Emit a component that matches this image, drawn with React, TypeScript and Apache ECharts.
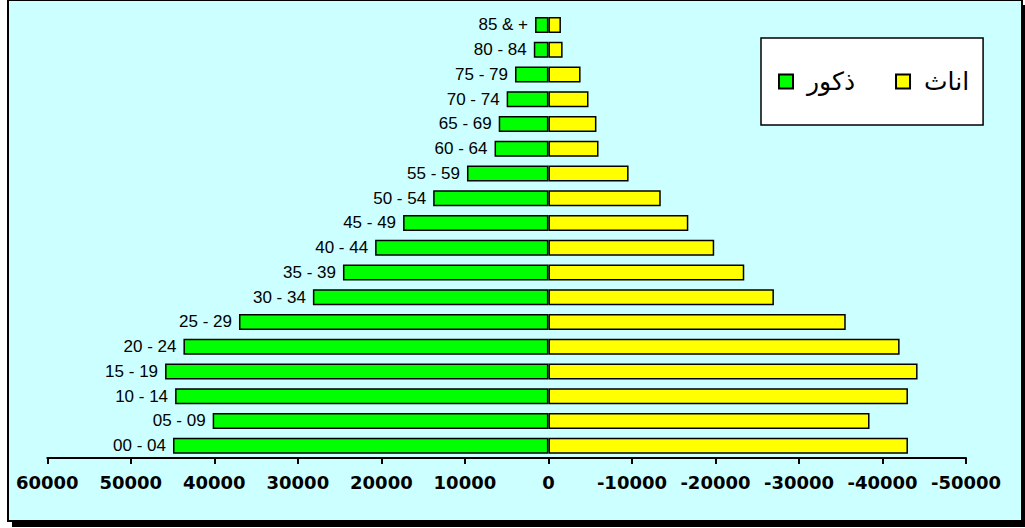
import React, { useEffect, useRef } from "react";
import * as echarts from "echarts";

// Age groups from youngest (bottom) to oldest (top)
const ageGroups = [
  "00 - 04", "05 - 09", "10 - 14", "15 - 19", "20 - 24", "25 - 29",
  "30 - 34", "35 - 39", "40 - 44", "45 - 49", "50 - 54", "55 - 59",
  "60 - 64", "65 - 69", "70 - 74", "75 - 79", "80 - 84", "85 & +",
];

// Males drawn on the positive side (left, axis is reversed)
const males = [
  44950, 40200, 44700, 45900, 43700, 37050, 28200, 24600, 20750,
  17400, 13800, 9750, 6450, 5950, 5000, 4000, 1750, 1600,
];

// Females drawn on the negative side (right)
const females = [
  -43050, -38450, -43050, -44200, -42050, -35600, -27000, -23450, -19850,
  -16750, -13450, -9600, -6000, -5750, -4800, -3850, -1700, -1500,
];

const maleName = "ذكور";
const femaleName = "اناث";

export default function App() {
  const ref = useRef<HTMLDivElement>(null);

  useEffect(() => {
    if (!ref.current) return;
    const chart = echarts.init(ref.current, undefined, { renderer: "svg" });
    chart.setOption({
      animation: false,
      backgroundColor: "#ffffff",
      graphic: [
        {
          type: "rect",
          z: -20,
          silent: true,
          shape: { x: 12, y: 5, width: 1016, height: 522 },
          style: { fill: "#000000" },
        },
        {
          type: "rect",
          z: -10,
          silent: true,
          shape: { x: 8, y: 0, width: 1014, height: 521 },
          style: { fill: "#CCFFFF", stroke: "#000000", lineWidth: 2 },
        },
      ],
      legend: {
        left: 761,
        top: 38,
        orient: "horizontal",
        data: [maleName, femaleName],
        backgroundColor: "#ffffff",
        borderColor: "#000000",
        borderWidth: 1.5,
        borderRadius: 0,
        padding: [31, 14, 31, 17],
        itemWidth: 14,
        itemHeight: 14,
        itemGap: 40,
        icon: "rect",
        textStyle: {
          fontFamily: "DejaVu Sans",
          fontSize: 25,
          color: "#000000",
          padding: [0, 0, 0, 9],
        },
      },
      grid: { left: 47.3, right: 59, top: 12.6, bottom: 70 },
      xAxis: {
        type: "value",
        inverse: true,
        min: -50000,
        max: 60000,
        interval: 10000,
        axisLine: { show: true, lineStyle: { color: "#000000", width: 2 } },
        axisTick: { show: true, inside: false, length: 6, lineStyle: { color: "#000000", width: 2 } },
        splitLine: { show: false },
        axisLabel: {
          color: "#000000",
          fontFamily: "DejaVu Sans",
          fontWeight: "bold",
          fontSize: 18,
          margin: 15,
          formatter: (v: number) => String(v),
        },
      },
      yAxis: {
        type: "category",
        data: ageGroups,
        axisLine: { show: false },
        axisTick: { show: false },
        axisLabel: { show: false },
        splitLine: { show: false },
      },
      series: [
        {
          name: maleName,
          type: "bar",
          data: males,
          barWidth: 16,
          barGap: "-100%",
          itemStyle: { color: "#00FF00", borderColor: "#000000", borderWidth: 1.5 },
          label: {
            show: true,
            position: "left",
            distance: 7,
            formatter: "{b}",
            color: "#000000",
            fontFamily: "Liberation Sans",
            fontSize: 17,
          },
        },
        {
          name: femaleName,
          type: "bar",
          data: females,
          barWidth: 16,
          barGap: "-100%",
          itemStyle: { color: "#FFFF00", borderColor: "#000000", borderWidth: 1.5 },
        },
      ],
    });
    return () => chart.dispose();
  }, []);

  return (
    <div
      ref={ref}
      style={{ position: "absolute", left: 0, top: 0, width: 1025, height: 528 }}
    />
  );
}
